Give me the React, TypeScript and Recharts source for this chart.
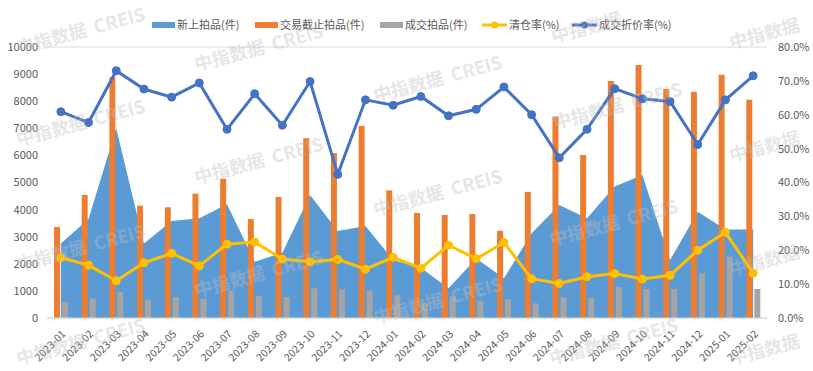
import {
  ComposedChart,
  Area,
  Bar,
  Line,
  XAxis,
  YAxis,
  CartesianGrid,
} from "recharts";

const months = [
  "2023-01", "2023-02", "2023-03", "2023-04", "2023-05", "2023-06", "2023-07",
  "2023-08", "2023-09", "2023-10", "2023-11", "2023-12", "2024-01", "2024-02",
  "2024-03", "2024-04", "2024-05", "2024-06", "2024-07", "2024-08", "2024-09",
  "2024-10", "2024-11", "2024-12", "2025-01", "2025-02",
];
// 新上拍品(件)
const newListed = [
  2750, 3650, 7000, 2750, 3580, 3680, 4200, 2080, 2410, 4540, 3210, 3395, 2140,
  1850, 1100, 2200, 1465, 3125, 4170, 3680, 4850, 5280, 2140, 3925, 3270, 3270,
];
// 交易截止拍品(件)
const closedLots = [
  3360, 4540, 8880, 4145, 4085, 4590, 5140, 3650, 4465, 6630, 6090, 7085, 4710,
  3875, 3800, 3840, 3220, 4650, 7440, 6015, 8745, 9335, 8450, 8350, 8980, 8055,
];
// 成交拍品(件)
const dealLots = [
  590, 725, 970, 675, 775, 710, 1000, 810, 775, 1095, 1060, 1010, 840, 555, 800,
  640, 700, 540, 765, 740, 1145, 1070, 1070, 1650, 2260, 1070,
];
// 清仓率(%)
const clearRate = [
  17.8, 15.6, 11.0, 16.3, 19.1, 15.4, 21.8, 22.4, 17.4, 16.6, 17.3, 14.4, 17.9,
  14.7, 21.5, 17.5, 22.3, 11.6, 10.2, 12.2, 13.1, 11.5, 12.6, 20.0, 25.3, 13.2,
];
// 成交折价率(%)
const discountRate = [
  60.9, 57.7, 73.0, 67.6, 65.2, 69.4, 55.7, 66.2, 56.9, 69.8, 42.4, 64.4, 62.8,
  65.4, 59.7, 61.6, 68.2, 60.0, 47.3, 55.7, 67.7, 64.7, 63.9, 51.2, 64.4, 71.5,
];

const leftTicks = [0, 1000, 2000, 3000, 4000, 5000, 6000, 7000, 8000, 9000, 10000];
const rightTicks = [0, 10, 20, 30, 40, 50, 60, 70, 80];

const data = months.map((m, i) => ({
  name: m,
  newListed: newListed[i],
  closedLots: closedLots[i],
  dealLots: dealLots[i],
  clearRate: clearRate[i],
  discountRate: discountRate[i],
}));

const FONT = '"Noto Sans CJK SC", "Noto Sans", sans-serif';

// watermark: left, top, full text or short
const marks: [number, number, boolean][] = [
  [13, 34, true], [191, 51, true], [370, 82, true], [548, 23, false], [726, 29, false],
  [13, 126, true], [191, 164, true], [370, 196, true], [550, 109, true], [726, 142, false],
  [13, 251, true], [191, 277, true], [370, 304, true], [546, 226, true], [726, 256, false],
  [13, 345, true], [546, 345, true], [726, 345, false],
];

const XTick = (props: any) => {
  const { x, y, payload } = props;
  return (
    <g transform={`translate(${x + 3},${y + 6})`}>
      <text
        transform="rotate(-45)"
        textAnchor="end"
        dy="0.35em"
        fontSize={10.5}
        fill="#595959"
        fontFamily={FONT}
      >
        {payload.value}
      </text>
    </g>
  );
};

// legend: symbol x, text x
const legendItems = [
  { label: "新上拍品(件)", color: "#5B9BD5", type: "rect", x: 152, tx: 177 },
  { label: "交易截止拍品(件)", color: "#ED7D31", type: "rect", x: 255, tx: 280 },
  { label: "成交拍品(件)", color: "#A5A5A5", type: "rect", x: 380, tx: 405 },
  { label: "清仓率(%)", color: "#FFC000", type: "line", x: 482, tx: 509 },
  { label: "成交折价率(%)", color: "#4472C4", type: "line", x: 572, tx: 599 },
];

const App = () => {
  return (
    <div
      style={{
        position: "absolute",
        left: 0,
        top: 0,
        width: 813,
        height: 371,
        background: "#fff",
        overflow: "hidden",
        fontFamily: FONT,
      }}
    >
      <ComposedChart
        width={813}
        height={371}
        data={data}
        margin={{ top: 47, right: 0, left: 0, bottom: 0 }}
        barSize={6}
        barGap={2}
      >
        <CartesianGrid vertical={false} stroke="#D9D9D9" />
        <XAxis
          dataKey="name"
          height={53}
          interval={0}
          tick={<XTick />}
          tickLine={false}
          axisLine={{ stroke: "#D9D9D9" }}
        />
        <YAxis
          yAxisId="left"
          width={47}
          domain={[0, 10000]}
          ticks={leftTicks}
          axisLine={false}
          tickLine={false}
          tickMargin={3}
          tick={{ fontSize: 11, fill: "#595959", fontFamily: FONT }}
        />
        <YAxis
          yAxisId="right"
          orientation="right"
          width={46}
          domain={[0, 80]}
          ticks={rightTicks}
          axisLine={false}
          tickLine={false}
          tickMargin={5}
          tickFormatter={(v: number) => v.toFixed(1) + "%"}
          tick={{ fontSize: 11, fill: "#595959", fontFamily: FONT }}
        />
        <Area
          yAxisId="left"
          type="linear"
          dataKey="newListed"
          fill="#5B9BD5"
          fillOpacity={1}
          stroke="none"
          isAnimationActive={false}
        />
        <Bar yAxisId="left" dataKey="closedLots" fill="#ED7D31" isAnimationActive={false} />
        <Bar yAxisId="left" dataKey="dealLots" fill="#A5A5A5" isAnimationActive={false} />
        <Line
          yAxisId="right"
          type="linear"
          dataKey="clearRate"
          stroke="#FFC000"
          strokeWidth={3}
          dot={{ r: 4, fill: "#FFC000", stroke: "#FFC000", strokeWidth: 1 }}
          isAnimationActive={false}
        />
        <Line
          yAxisId="right"
          type="linear"
          dataKey="discountRate"
          stroke="#4472C4"
          strokeWidth={3}
          dot={{ r: 4, fill: "#4472C4", stroke: "#4472C4", strokeWidth: 1 }}
          isAnimationActive={false}
        />
      </ComposedChart>

      {legendItems.map((it) => (
        <div key={it.label}>
          {it.type === "rect" ? (
            <span
              style={{
                position: "absolute",
                left: it.x,
                top: 22,
                width: 23,
                height: 6,
                background: it.color,
              }}
            />
          ) : (
            <svg
              width={25}
              height={10}
              style={{ position: "absolute", left: it.x, top: 20 }}
            >
              <line x1={0} y1={5} x2={25} y2={5} stroke={it.color} strokeWidth={3} />
              <circle cx={12.5} cy={5} r={3.5} fill={it.color} />
            </svg>
          )}
          <span
            style={{
              position: "absolute",
              left: it.tx,
              top: 16,
              fontSize: 11,
              lineHeight: "16px",
              color: "#595959",
              whiteSpace: "nowrap",
            }}
          >
            {it.label}
          </span>
        </div>
      ))}

      <div style={{ position: "absolute", left: 0, top: 0, width: 813, height: 371, pointerEvents: "none" }}>
        {marks.map(([l, t, full], i) => (
          <div
            key={i}
            style={{
              position: "absolute",
              left: l,
              top: t,
              transform: "rotate(-15deg)",
              transformOrigin: "left top",
              fontSize: 18,
              fontWeight: 700,
              color: "rgba(190,190,190,0.4)",
              whiteSpace: "nowrap",
              fontFamily: FONT,
            }}
          >
            {full ? "中指数据\u00a0\u00a0CREIS" : "中指数据"}
          </div>
        ))}
      </div>
    </div>
  );
};

export default App;
